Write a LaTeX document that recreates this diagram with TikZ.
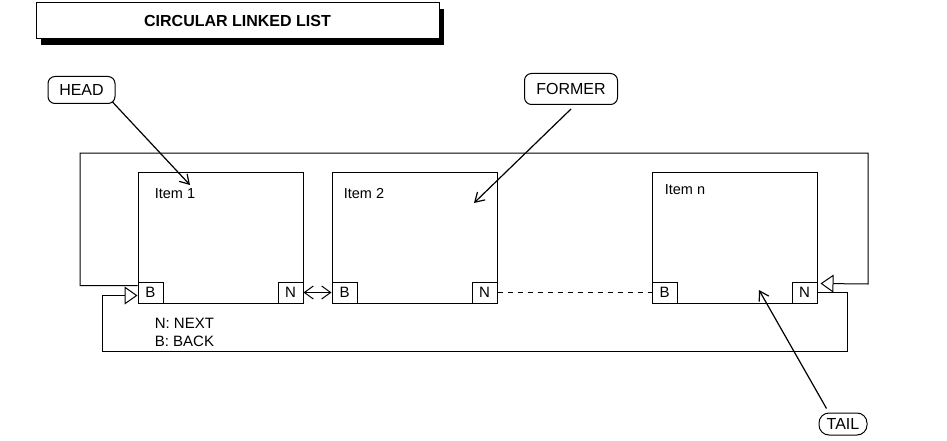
\documentclass[tikz,border=0pt]{standalone}
\usepackage{fontspec}
\setmainfont{Liberation Sans}
\usetikzlibrary{arrows.meta,positioning,shadows}

\begin{document}
\begin{tikzpicture}[x=1pt,y=-1pt,line width=1pt,
		itembox/.style={draw, minimum width=165pt, minimum height=131pt, inner sep=0pt},
		fieldbox/.style={draw, minimum width=25pt, minimum height=21pt, inner sep=0pt, font=\fontsize{15}{18}\selectfont},
		tag/.style={draw, rounded corners=7pt, inner sep=0pt, font=\fontsize{16}{19}\selectfont},
		ptr/.style={-{Straight Barb[length=9pt,width=11pt]}, line width=1.2pt},
		link/.style={{Straight Barb[length=9pt,width=13pt]}-{Straight Barb[length=9pt,width=13pt]}},
		back/.style={-{Triangle[open,length=13pt,width=18pt]}}]
		\useasboundingbox (0,0) rectangle (947,441);
		
		% title
		\node[draw, fill=white, minimum width=403pt, minimum height=36pt, inner sep=0pt,
			drop shadow={shadow xshift=5pt, shadow yshift=-6pt, fill=black, opacity=1},
			font=\fontsize{16}{19}\selectfont\bfseries] (title) at (237.5,21) {CIRCULAR LINKED LIST};
		
		% items
		\node[itembox] (item1) at (220.5,237.5) {};
		\node[itembox] (item2) at (414.5,237.5) {};
		\node[itembox] (itemn) at (734.5,237.5) {};
		\node[font=\fontsize{14.5}{17}\selectfont] (t1) at (175,194) {Item 1};
		\node[font=\fontsize{14.5}{17}\selectfont] (t2) at (364,194) {Item 2};
		\node[font=\fontsize{14.5}{17}\selectfont] (tn) at (685,190) {Item n};
		
		% back / next fields
		\node[fieldbox, anchor=south west] (b1) at (item1.south west) {B};
		\node[fieldbox, anchor=south east] (n1) at (item1.south east) {N};
		\node[fieldbox, anchor=south west] (b2) at (item2.south west) {B};
		\node[fieldbox, anchor=south east] (n2) at (item2.south east) {N};
		\node[fieldbox, anchor=south west] (bn) at (itemn.south west) {B};
		\node[fieldbox, anchor=south east] (nn) at (itemn.south east) {N};
		
		\draw[link] (n1.east) -- (b2.west);
		\draw[dash pattern=on 5pt off 5pt] (n2.east) -- (bn.west);
		
		% circular links
		\draw[back] ([yshift=-4pt]b1.north west) -| (80,153) -| (868,284) -- ([shift={(3pt,-2pt)}]nn.north east);
		\draw[back] (nn.east) -| (847,351) -| (102,295.5) -- ([yshift=-3pt]b1.west);
		
		% legend
		\node[anchor=west, align=left, font=\fontsize{15}{18}\selectfont] (legend) at (151,332) {N: NEXT\\B: BACK};
		
		% pointers
		\node[tag, minimum width=67pt, minimum height=27pt] (head) at (81.5,90) {HEAD};
		\node[tag, minimum width=93pt, minimum height=31pt] (former) at (571,89) {FORMER};
		\node[tag, rounded corners=10pt, minimum width=48pt, minimum height=22pt] (tail) at (843,424) {TAIL};
		\coordinate (hp) at (190,185);
		\coordinate (fp) at (474,203);
		\coordinate (tp) at (759,290);
		\draw[ptr] ([shift={(-3pt,2pt)}]head.south east) -- (hp);
		\draw[ptr] ([yshift=-4pt]former.south) -- (fp);
		\draw[ptr] ([shift={(8pt,4pt)}]tail.north west) -- (tp);
\end{tikzpicture}
\end{document}
